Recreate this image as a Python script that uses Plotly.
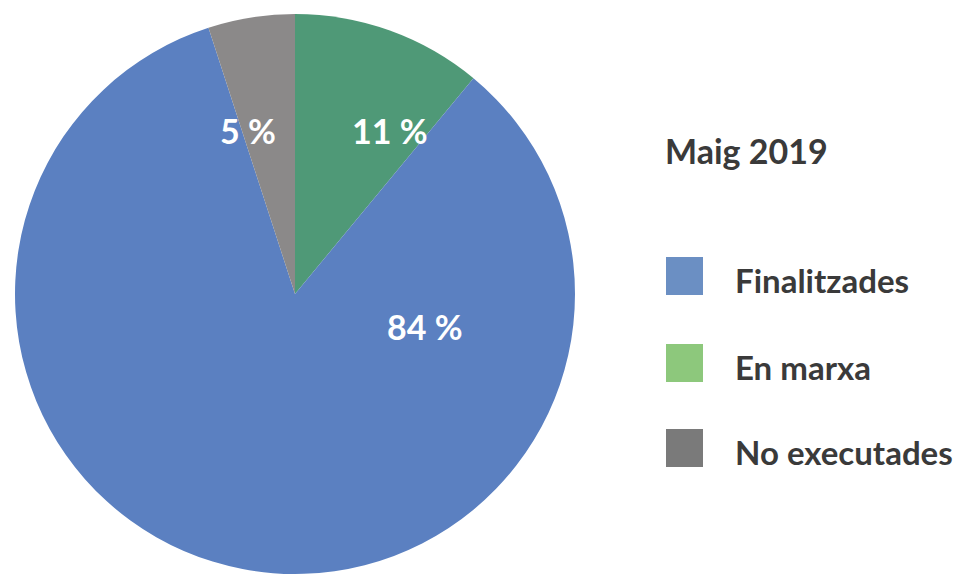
import plotly.graph_objects as go

# Data (legend order)
categories = ["Finalitzades", "En marxa", "No executades"]
values = [84, 11, 5]
value_labels = ["84 %", "11 %", "5 %"]
slice_colors = ["#5b80c1", "#4f9977", "#8b8989"]
legend_colors = ["#6b8fc3", "#8dc87c", "#7a7a7a"]
title_text = "Maig 2019"

# Pie drawing order: clockwise from 12 o'clock -> En marxa, Finalitzades, No executades
pie_order = [1, 0, 2]

W, H = 968, 576
OFF = 8  # page offset of the plot in the browser

def px(x):
    return (x - OFF) / W

def py(y):
    return 1 - (y - OFF) / H

cx, cy, r = 295, 294, 280

fig = go.Figure()
fig.add_trace(go.Pie(
    labels=[categories[i] for i in pie_order],
    values=[values[i] for i in pie_order],
    marker=dict(colors=[slice_colors[i] for i in pie_order], line=dict(width=0)),
    sort=False,
    direction="clockwise",
    rotation=0,
    textinfo="none",
    hoverinfo="label+percent",
    showlegend=False,
    domain=dict(x=[px(cx - r), px(cx + r)], y=[py(cy + r), py(cy - r)]),
))

FONT = "Lato, 'Open Sans', sans-serif"

# Slice value labels
label_pos = [(425, 326), (390, 131), (248, 131)]
for (x, y), t in zip(label_pos, value_labels):
    fig.add_annotation(x=px(x), y=py(y), xref="paper", yref="paper", text=f"<b>{t}</b>",
                       showarrow=False, xanchor="center", yanchor="middle",
                       font=dict(family=FONT, size=34, color="white"))

# Title
fig.add_annotation(x=px(663), y=py(150), xref="paper", yref="paper", text=f"<b>{title_text}</b>",
                   showarrow=False, xanchor="left", yanchor="middle",
                   font=dict(family=FONT, size=34, color="#3a3a3a"))

# Manual legend
sw_centers = [276, 363, 448]
for yc, name, col in zip(sw_centers, categories, legend_colors):
    fig.add_shape(type="rect", xref="paper", yref="paper",
                  x0=px(666), x1=px(703), y0=py(yc - 19), y1=py(yc + 19),
                  fillcolor=col, line=dict(width=0))
    fig.add_annotation(x=px(733), y=py(yc + 4), xref="paper", yref="paper", text=f"<b>{name}</b>",
                       showarrow=False, xanchor="left", yanchor="middle",
                       font=dict(family=FONT, size=33, color="#3a3a3a"))

fig.update_layout(
    width=W, height=H,
    margin=dict(l=0, r=0, t=0, b=0),
    paper_bgcolor="white", plot_bgcolor="white",
)

fig.write_html("out.html")
